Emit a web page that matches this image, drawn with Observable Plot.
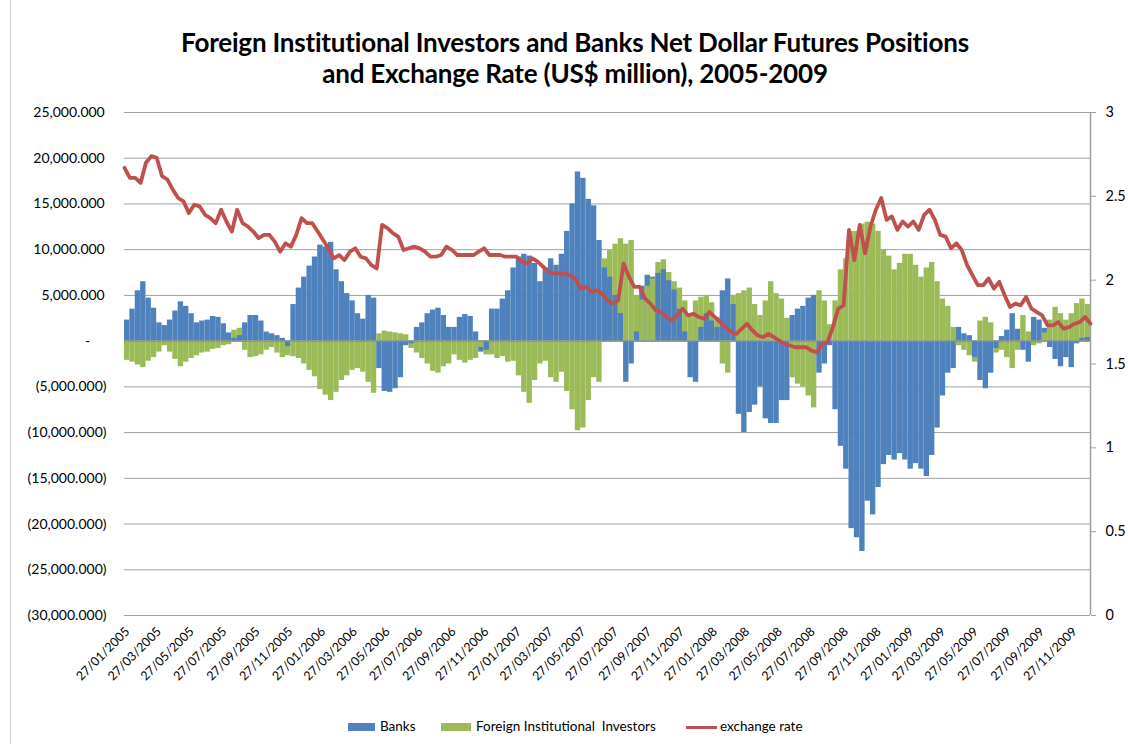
<!DOCTYPE html>
<html><head><meta charset="utf-8">
<script src="https://cdn.jsdelivr.net/npm/d3@7"></script>
<script src="https://cdn.jsdelivr.net/npm/@observablehq/plot@0.6"></script>
<style>
body{margin:0;background:#fff;font-family:Lato,"Open Sans",sans-serif;}
#wrap{position:relative;width:1128px;height:744px;overflow:hidden;background:#fff;}
#frame{position:absolute;left:10px;top:-2px;width:1140px;height:770px;border:1px solid #d0d0d0;box-sizing:border-box;}
#title{position:absolute;top:27px;left:0;width:1150px;text-align:center;font-weight:700;font-size:26px;line-height:31px;color:#000;letter-spacing:-0.2px;}
#chart{position:absolute;top:100px;left:0;width:1128px;height:600px;}
#chart svg{width:1128px;height:600px;max-width:none;}
#chart svg text{font-family:Lato,"Open Sans",sans-serif !important;}
.lg{position:absolute;font-size:13.5px;color:#000;top:718px;white-space:pre;}
.sw{position:absolute;}
</style></head>
<body><div id="wrap">
<div id="frame"></div>
<div id="title">Foreign Institutional Investors and Banks Net Dollar Futures Positions<br>and Exchange Rate (US$ million), 2005-2009</div>
<div id="chart"></div>
<div class="sw" style="left:348px;top:723px;width:27px;height:8px;background:#4f81bd"></div>
<div class="lg" style="left:380px">Banks</div>
<div class="sw" style="left:441px;top:723px;width:30px;height:8px;background:#9bbb59"></div>
<div class="lg" style="left:476px">Foreign Institutional  Investors</div>
<div class="sw" style="left:686px;top:726px;width:31px;height:3px;background:#c0504d"></div>
<div class="lg" style="left:720px">exchange rate</div>
</div>
<script>
// x tick labels (every two months)
const tickLabels = ["27/01/2005","27/03/2005","27/05/2005","27/07/2005","27/09/2005","27/11/2005",
"27/01/2006","27/03/2006","27/05/2006","27/07/2006","27/09/2006","27/11/2006",
"27/01/2007","27/03/2007","27/05/2007","27/07/2007","27/09/2007","27/11/2007",
"27/01/2008","27/03/2008","27/05/2008","27/07/2008","27/09/2008","27/11/2008",
"27/01/2009","27/03/2009","27/05/2009","27/07/2009","27/09/2009","27/11/2009"];

// sampling dates: every 10 days from 27/01/2005 (181 dates, 180 bar periods)
const dates = d3.utcDay.range(new Date(Date.UTC(2005,0,27)), new Date(Date.UTC(2010,0,2)), 10);

// Banks net dollar futures positions (US$ million), one value per 10-day period
const banks = [
2300,3500,5500,6500,4700,3600,2000,1700,2300,3300,
4300,3800,3000,2000,2200,2300,2700,2600,1900,900,
300,600,2000,2800,2800,2200,1000,800,600,300,
-600,4000,5800,7000,8200,9200,10500,10300,10800,7800,
6500,5200,4400,3000,2400,5000,4700,-3000,-5500,-5600,
-5200,-4000,-500,-300,1500,2000,3000,3400,3600,2800,
1500,1500,2600,2900,2700,1000,-1200,-1000,3500,3500,
4600,5500,8000,9200,9500,9300,8500,6500,8000,9000,
8300,9500,12000,15000,18500,17800,15500,14800,11000,8000,
7000,5000,3000,-4500,-2500,1000,6000,7200,7000,7400,
7800,6600,5600,3500,1000,-4000,-4500,1500,3000,2200,
1500,5500,6800,4000,-8000,-10000,-7800,-7000,-5000,-8500,
-9000,-9000,-6500,-6500,2800,3500,3800,4700,5000,-3500,
-2500,-500,-7500,-11500,-14000,-20500,-21500,-23000,-17500,-19000,
-16000,-13500,-12500,-13000,-12300,-13000,-14000,-13400,-14000,-14800,
-12500,-9500,-6000,-3500,-3000,1500,800,600,-1800,-4300,
-5200,-3500,-800,500,1200,3000,1300,-1000,-2300,2600,
2300,1400,-700,-2000,-2800,-1800,-2900,-300,300,400];

// Foreign Institutional Investors net dollar futures positions (US$ million)
const fii = [
-2100,-2300,-2600,-2900,-2200,-1800,-1200,-500,-1200,-2000,
-2800,-2300,-1900,-1600,-1300,-1200,-900,-800,-500,-400,
1200,1400,-1000,-1800,-1700,-1500,-1000,-700,-1300,-1800,
-1600,-1700,-1900,-2500,-3200,-3900,-5300,-5900,-6500,-5600,
-4300,-3800,-3200,-3000,-3400,-4500,-5700,800,1100,1000,
900,800,700,-800,-1300,-1900,-2500,-3300,-3500,-2800,
-2500,-1500,-2100,-2400,-2100,-1900,-700,-1500,-1500,-1900,
-1700,-2300,-2200,-3800,-5600,-6800,-4300,-2500,-2200,-4000,
-4500,-3400,-5500,-7500,-9800,-9500,-6500,-4000,-4500,9000,
9900,10600,11200,10600,11000,5000,4500,6000,6800,8600,
8900,7500,6500,5800,4400,3000,4400,4800,5000,4200,
2600,-2500,-3500,5000,5200,5500,5800,4000,2800,4400,
6500,5200,4600,2500,-4000,-4700,-5000,-6000,-7300,5500,
4400,1800,4400,7800,9000,12000,12000,12800,13000,12800,
12000,10000,9300,7800,8500,9500,9500,8300,7000,8000,
8600,6500,4600,3800,1500,-500,-1000,-1600,-2300,2200,
2600,2000,-1300,-1000,-1800,-3000,-1000,2800,1000,-500,
-300,900,2300,3700,3000,2300,3000,4100,4600,4000];

// exchange rate (right axis), one value per sampling date
const rate = [
2.67,2.61,2.61,2.58,2.70,2.74,2.73,2.62,2.60,2.54,
2.49,2.47,2.40,2.45,2.44,2.39,2.37,2.34,2.42,2.35,
2.29,2.42,2.34,2.32,2.29,2.25,2.27,2.27,2.23,2.17,
2.22,2.20,2.27,2.37,2.34,2.34,2.29,2.24,2.19,2.13,
2.15,2.12,2.17,2.19,2.14,2.13,2.09,2.07,2.33,2.31,
2.28,2.26,2.18,2.19,2.20,2.19,2.17,2.14,2.14,2.15,
2.20,2.18,2.15,2.15,2.15,2.15,2.17,2.19,2.15,2.15,
2.15,2.14,2.14,2.14,2.11,2.10,2.13,2.11,2.08,2.05,
2.04,2.04,2.04,2.03,2.01,1.95,1.96,1.93,1.94,1.92,
1.88,1.86,1.88,2.10,2.02,1.96,1.96,1.89,1.86,1.82,
1.81,1.78,1.76,1.79,1.83,1.79,1.80,1.78,1.77,1.81,
1.78,1.75,1.72,1.69,1.68,1.71,1.74,1.70,1.67,1.66,
1.68,1.66,1.64,1.62,1.61,1.60,1.60,1.60,1.58,1.57,
1.62,1.63,1.72,1.83,1.85,2.30,2.12,2.33,2.16,2.32,
2.42,2.49,2.36,2.38,2.30,2.35,2.32,2.35,2.30,2.39,
2.42,2.36,2.27,2.26,2.19,2.22,2.18,2.09,2.03,1.97,
1.97,2.01,1.95,1.99,1.91,1.84,1.86,1.85,1.90,1.83,
1.81,1.79,1.73,1.73,1.75,1.71,1.72,1.74,1.75,1.78,
1.74];

const yTicks = [25000,20000,15000,10000,5000,0,-5000,-10000,-15000,-20000,-25000,-30000];
const rateTicks = [0,0.5,1,1.5,2,2.5,3];
const seriesNames = ["Banks","Foreign Institutional  Investors"];
const seriesColors = ["#4f81bd","#9bbb59"];

const yMin = -30000, yMax = 25000, rMax = 3;
const toLeft = r => yMin + r * (yMax - yMin) / rMax;
const fromLeft = v => (v - yMin) / (yMax - yMin) * rMax;

const fmt = d3.format(",.3f");
const fmtLeft = d => d === 0 ? "-\u2007\u2007" : d < 0 ? "(" + fmt(-d) + ")" : fmt(d) + "\u2009";
const parse = d3.utcParse("%d/%m/%Y");
const xTicks = tickLabels.map(parse);

const bars = [];
for (let i = 0; i < banks.length; i++) {
  const pair = [{s: seriesNames[0], v: banks[i]}, {s: seriesNames[1], v: fii[i]}];
  pair.sort((a, b) => Math.abs(b.v) - Math.abs(a.v));
  for (const p of pair) bars.push({x1: dates[i], x2: dates[i + 1], series: p.s, value: p.v});
}
const rateData = rate.map((r, i) => ({date: dates[i], rate: r}));

const chart = Plot.plot({
  width: 1128, height: 600,
  marginLeft: 124, marginRight: 38, marginTop: 12, marginBottom: 85,
  style: {fontFamily: "Lato, 'Open Sans', sans-serif", fontSize: "14px", color: "#000", background: "transparent", overflow: "visible"},
  x: {type: "utc", domain: [dates[0], dates[dates.length - 1]]},
  y: {domain: [yMin, yMax]},
  color: {domain: seriesNames, range: seriesColors},
  marks: [
    Plot.ruleY(yTicks, {stroke: "#a0a0a0", strokeWidth: 1}),
    Plot.rect(bars, {x1: "x1", x2: "x2", y1: 0, y2: "value", fill: "series"}),
    Plot.ruleY([0], {stroke: "#8c8c8c", strokeWidth: 1.2}),
    Plot.ruleX([dates[dates.length - 1]], {stroke: "#a0a0a0", strokeWidth: 1.5}),
    Plot.line(rateData, {x: "date", y: d => toLeft(d.rate), stroke: "#c0504d", strokeWidth: 3.8, strokeLinejoin: "round"}),
    Plot.axisY({anchor: "left", ticks: yTicks, tickFormat: fmtLeft, tickSize: 0, tickPadding: 18, label: null, fontSize: 14}),
    Plot.axisY({anchor: "right", ticks: rateTicks.map(toLeft), tickFormat: v => String(Math.round(fromLeft(v) * 10) / 10), tickSize: 5, tickPadding: 10, label: null, stroke: "#a0a0a0", fontSize: 14.5}),
    Plot.axisX({ticks: xTicks, tickFormat: d3.utcFormat("%d/%m/%Y"), tickRotate: -45, tickSize: 0, tickPadding: 14, dx: 3, label: null, fontSize: 12.5})
  ]
});
document.getElementById("chart").appendChild(chart);
</script>
</body></html>
